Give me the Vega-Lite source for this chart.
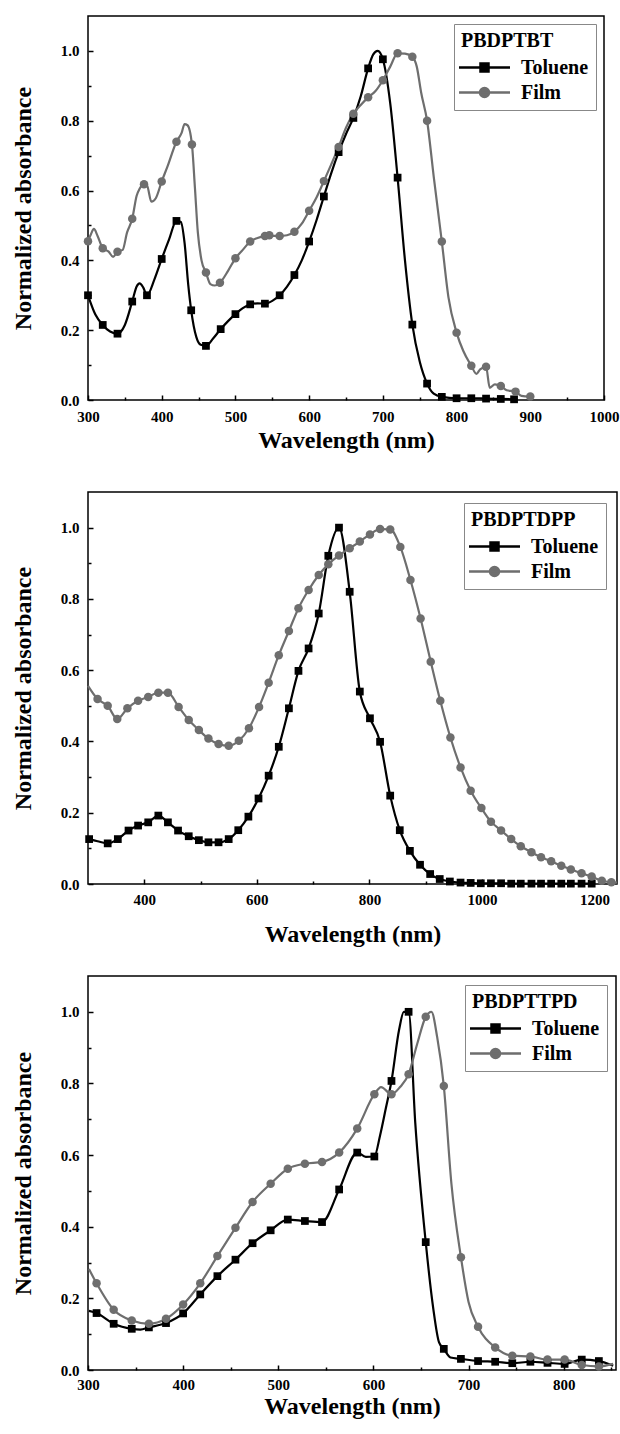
{
  "$schema": "https://vega.github.io/schema/vega-lite/v6.json",
  "padding": {"left": 10, "top": 15, "right": 0, "bottom": 0},
  "background": "white",
  "datasets": {
    "p1": [
      {"s":"Toluene","x":300,"y":0.30,"m":1},{"s":"Toluene","x":310,"y":0.245,"m":0},{"s":"Toluene","x":320,"y":0.215,"m":1},{"s":"Toluene","x":330,"y":0.196,"m":0},{"s":"Toluene","x":340,"y":0.19,"m":1},{"s":"Toluene","x":350,"y":0.215,"m":0},{"s":"Toluene","x":360,"y":0.282,"m":1},{"s":"Toluene","x":366,"y":0.325,"m":0},{"s":"Toluene","x":370,"y":0.334,"m":0},{"s":"Toluene","x":375,"y":0.322,"m":0},{"s":"Toluene","x":380,"y":0.30,"m":1},{"s":"Toluene","x":390,"y":0.345,"m":0},{"s":"Toluene","x":400,"y":0.404,"m":1},{"s":"Toluene","x":410,"y":0.46,"m":0},{"s":"Toluene","x":420,"y":0.513,"m":1},{"s":"Toluene","x":426,"y":0.51,"m":0},{"s":"Toluene","x":431,"y":0.45,"m":0},{"s":"Toluene","x":436,"y":0.33,"m":0},{"s":"Toluene","x":440,"y":0.257,"m":1},{"s":"Toluene","x":447,"y":0.18,"m":0},{"s":"Toluene","x":453,"y":0.158,"m":0},{"s":"Toluene","x":460,"y":0.155,"m":1},{"s":"Toluene","x":470,"y":0.177,"m":0},{"s":"Toluene","x":480,"y":0.203,"m":1},{"s":"Toluene","x":490,"y":0.226,"m":0},{"s":"Toluene","x":500,"y":0.246,"m":1},{"s":"Toluene","x":510,"y":0.263,"m":0},{"s":"Toluene","x":520,"y":0.274,"m":1},{"s":"Toluene","x":530,"y":0.277,"m":0},{"s":"Toluene","x":540,"y":0.276,"m":1},{"s":"Toluene","x":550,"y":0.284,"m":0},{"s":"Toluene","x":560,"y":0.30,"m":1},{"s":"Toluene","x":570,"y":0.325,"m":0},{"s":"Toluene","x":580,"y":0.358,"m":1},{"s":"Toluene","x":590,"y":0.40,"m":0},{"s":"Toluene","x":600,"y":0.454,"m":1},{"s":"Toluene","x":610,"y":0.515,"m":0},{"s":"Toluene","x":620,"y":0.583,"m":1},{"s":"Toluene","x":630,"y":0.65,"m":0},{"s":"Toluene","x":640,"y":0.71,"m":1},{"s":"Toluene","x":650,"y":0.762,"m":0},{"s":"Toluene","x":660,"y":0.808,"m":1},{"s":"Toluene","x":670,"y":0.87,"m":0},{"s":"Toluene","x":680,"y":0.95,"m":1},{"s":"Toluene","x":687,"y":0.99,"m":0},{"s":"Toluene","x":693,"y":1.0,"m":0},{"s":"Toluene","x":700,"y":0.976,"m":1},{"s":"Toluene","x":710,"y":0.85,"m":0},{"s":"Toluene","x":720,"y":0.637,"m":1},{"s":"Toluene","x":730,"y":0.40,"m":0},{"s":"Toluene","x":740,"y":0.216,"m":1},{"s":"Toluene","x":750,"y":0.11,"m":0},{"s":"Toluene","x":760,"y":0.047,"m":1},{"s":"Toluene","x":769,"y":0.018,"m":0},{"s":"Toluene","x":780,"y":0.009,"m":1},{"s":"Toluene","x":800,"y":0.005,"m":1},{"s":"Toluene","x":820,"y":0.005,"m":1},{"s":"Toluene","x":840,"y":0.004,"m":1},{"s":"Toluene","x":860,"y":0.003,"m":1},{"s":"Toluene","x":878,"y":0.002,"m":1},
      {"s":"Film","x":300,"y":0.455,"m":1},{"s":"Film","x":304,"y":0.475,"m":0},{"s":"Film","x":308,"y":0.49,"m":0},{"s":"Film","x":313,"y":0.47,"m":0},{"s":"Film","x":320,"y":0.435,"m":1},{"s":"Film","x":328,"y":0.425,"m":0},{"s":"Film","x":334,"y":0.41,"m":0},{"s":"Film","x":340,"y":0.425,"m":1},{"s":"Film","x":347,"y":0.43,"m":0},{"s":"Film","x":353,"y":0.48,"m":0},{"s":"Film","x":360,"y":0.519,"m":1},{"s":"Film","x":366,"y":0.585,"m":0},{"s":"Film","x":370,"y":0.605,"m":0},{"s":"Film","x":376,"y":0.618,"m":1},{"s":"Film","x":380,"y":0.615,"m":0},{"s":"Film","x":386,"y":0.568,"m":0},{"s":"Film","x":392,"y":0.578,"m":0},{"s":"Film","x":400,"y":0.626,"m":1},{"s":"Film","x":408,"y":0.67,"m":0},{"s":"Film","x":420,"y":0.74,"m":1},{"s":"Film","x":427,"y":0.765,"m":0},{"s":"Film","x":431,"y":0.79,"m":0},{"s":"Film","x":435,"y":0.787,"m":0},{"s":"Film","x":441,"y":0.732,"m":1},{"s":"Film","x":445,"y":0.61,"m":0},{"s":"Film","x":449,"y":0.48,"m":0},{"s":"Film","x":454,"y":0.40,"m":0},{"s":"Film","x":460,"y":0.365,"m":1},{"s":"Film","x":466,"y":0.332,"m":0},{"s":"Film","x":472,"y":0.328,"m":0},{"s":"Film","x":479,"y":0.336,"m":1},{"s":"Film","x":490,"y":0.37,"m":0},{"s":"Film","x":500,"y":0.406,"m":1},{"s":"Film","x":510,"y":0.43,"m":0},{"s":"Film","x":520,"y":0.454,"m":1},{"s":"Film","x":530,"y":0.464,"m":0},{"s":"Film","x":540,"y":0.47,"m":1},{"s":"Film","x":546,"y":0.472,"m":1},{"s":"Film","x":552,"y":0.47,"m":0},{"s":"Film","x":560,"y":0.47,"m":1},{"s":"Film","x":570,"y":0.472,"m":0},{"s":"Film","x":580,"y":0.482,"m":1},{"s":"Film","x":590,"y":0.505,"m":0},{"s":"Film","x":600,"y":0.542,"m":1},{"s":"Film","x":610,"y":0.58,"m":0},{"s":"Film","x":620,"y":0.627,"m":1},{"s":"Film","x":630,"y":0.675,"m":0},{"s":"Film","x":640,"y":0.725,"m":1},{"s":"Film","x":650,"y":0.78,"m":0},{"s":"Film","x":660,"y":0.82,"m":1},{"s":"Film","x":670,"y":0.845,"m":0},{"s":"Film","x":680,"y":0.867,"m":1},{"s":"Film","x":690,"y":0.885,"m":0},{"s":"Film","x":700,"y":0.916,"m":1},{"s":"Film","x":710,"y":0.955,"m":0},{"s":"Film","x":720,"y":0.993,"m":1},{"s":"Film","x":730,"y":0.992,"m":0},{"s":"Film","x":740,"y":0.983,"m":1},{"s":"Film","x":746,"y":0.955,"m":0},{"s":"Film","x":752,"y":0.88,"m":0},{"s":"Film","x":760,"y":0.80,"m":1},{"s":"Film","x":769,"y":0.64,"m":0},{"s":"Film","x":780,"y":0.454,"m":1},{"s":"Film","x":789,"y":0.294,"m":0},{"s":"Film","x":800,"y":0.193,"m":1},{"s":"Film","x":809,"y":0.141,"m":0},{"s":"Film","x":820,"y":0.098,"m":1},{"s":"Film","x":827,"y":0.075,"m":0},{"s":"Film","x":832,"y":0.088,"m":0},{"s":"Film","x":840,"y":0.095,"m":1},{"s":"Film","x":845,"y":0.035,"m":0},{"s":"Film","x":852,"y":0.045,"m":0},{"s":"Film","x":860,"y":0.04,"m":1},{"s":"Film","x":868,"y":0.028,"m":0},{"s":"Film","x":880,"y":0.024,"m":1},{"s":"Film","x":888,"y":0.012,"m":0},{"s":"Film","x":900,"y":0.01,"m":1}
    ],
    "p2": [
      {"s":"Toluene","x":302,"y":0.126,"m":1},{"s":"Toluene","x":317,"y":0.12,"m":0},{"s":"Toluene","x":335,"y":0.114,"m":1},{"s":"Toluene","x":353,"y":0.126,"m":1},{"s":"Toluene","x":372,"y":0.15,"m":1},{"s":"Toluene","x":389,"y":0.164,"m":1},{"s":"Toluene","x":407,"y":0.173,"m":1},{"s":"Toluene","x":425,"y":0.192,"m":1},{"s":"Toluene","x":442,"y":0.173,"m":1},{"s":"Toluene","x":460,"y":0.15,"m":1},{"s":"Toluene","x":479,"y":0.134,"m":1},{"s":"Toluene","x":497,"y":0.123,"m":1},{"s":"Toluene","x":514,"y":0.117,"m":1},{"s":"Toluene","x":532,"y":0.117,"m":1},{"s":"Toluene","x":550,"y":0.126,"m":1},{"s":"Toluene","x":567,"y":0.151,"m":1},{"s":"Toluene","x":585,"y":0.189,"m":1},{"s":"Toluene","x":603,"y":0.24,"m":1},{"s":"Toluene","x":621,"y":0.304,"m":1},{"s":"Toluene","x":639,"y":0.385,"m":1},{"s":"Toluene","x":657,"y":0.493,"m":1},{"s":"Toluene","x":674,"y":0.598,"m":1},{"s":"Toluene","x":692,"y":0.661,"m":1},{"s":"Toluene","x":710,"y":0.759,"m":1},{"s":"Toluene","x":727,"y":0.921,"m":1},{"s":"Toluene","x":746,"y":1.0,"m":1},{"s":"Toluene","x":765,"y":0.82,"m":1},{"s":"Toluene","x":783,"y":0.54,"m":1},{"s":"Toluene","x":801,"y":0.465,"m":1},{"s":"Toluene","x":819,"y":0.399,"m":1},{"s":"Toluene","x":837,"y":0.248,"m":1},{"s":"Toluene","x":854,"y":0.151,"m":1},{"s":"Toluene","x":872,"y":0.093,"m":1},{"s":"Toluene","x":890,"y":0.054,"m":1},{"s":"Toluene","x":908,"y":0.028,"m":1},{"s":"Toluene","x":925,"y":0.014,"m":1},{"s":"Toluene","x":943,"y":0.007,"m":1},{"s":"Toluene","x":962,"y":0.004,"m":1},{"s":"Toluene","x":980,"y":0.003,"m":1},{"s":"Toluene","x":998,"y":0.002,"m":1},{"s":"Toluene","x":1016,"y":0.002,"m":1},{"s":"Toluene","x":1034,"y":0.002,"m":1},{"s":"Toluene","x":1052,"y":0.001,"m":1},{"s":"Toluene","x":1069,"y":0.001,"m":1},{"s":"Toluene","x":1088,"y":0.001,"m":1},{"s":"Toluene","x":1105,"y":0.001,"m":1},{"s":"Toluene","x":1123,"y":0.001,"m":1},{"s":"Toluene","x":1141,"y":0.001,"m":1},{"s":"Toluene","x":1158,"y":0.001,"m":1},{"s":"Toluene","x":1177,"y":0.001,"m":1},{"s":"Toluene","x":1195,"y":0.001,"m":1},
      {"s":"Film","x":300,"y":0.556,"m":0},{"s":"Film","x":317,"y":0.519,"m":1},{"s":"Film","x":335,"y":0.50,"m":1},{"s":"Film","x":352,"y":0.463,"m":1},{"s":"Film","x":370,"y":0.493,"m":1},{"s":"Film","x":389,"y":0.514,"m":1},{"s":"Film","x":407,"y":0.525,"m":1},{"s":"Film","x":425,"y":0.537,"m":1},{"s":"Film","x":442,"y":0.537,"m":1},{"s":"Film","x":461,"y":0.497,"m":1},{"s":"Film","x":479,"y":0.46,"m":1},{"s":"Film","x":497,"y":0.432,"m":1},{"s":"Film","x":514,"y":0.408,"m":1},{"s":"Film","x":532,"y":0.393,"m":1},{"s":"Film","x":550,"y":0.388,"m":1},{"s":"Film","x":568,"y":0.402,"m":1},{"s":"Film","x":586,"y":0.437,"m":1},{"s":"Film","x":604,"y":0.497,"m":1},{"s":"Film","x":621,"y":0.565,"m":1},{"s":"Film","x":639,"y":0.642,"m":1},{"s":"Film","x":657,"y":0.71,"m":1},{"s":"Film","x":674,"y":0.774,"m":1},{"s":"Film","x":692,"y":0.825,"m":1},{"s":"Film","x":710,"y":0.867,"m":1},{"s":"Film","x":727,"y":0.897,"m":1},{"s":"Film","x":746,"y":0.922,"m":1},{"s":"Film","x":765,"y":0.942,"m":1},{"s":"Film","x":783,"y":0.961,"m":1},{"s":"Film","x":801,"y":0.981,"m":1},{"s":"Film","x":819,"y":0.996,"m":1},{"s":"Film","x":837,"y":0.995,"m":1},{"s":"Film","x":855,"y":0.946,"m":1},{"s":"Film","x":873,"y":0.853,"m":1},{"s":"Film","x":891,"y":0.745,"m":1},{"s":"Film","x":909,"y":0.624,"m":1},{"s":"Film","x":926,"y":0.514,"m":1},{"s":"Film","x":944,"y":0.411,"m":1},{"s":"Film","x":962,"y":0.327,"m":1},{"s":"Film","x":980,"y":0.262,"m":1},{"s":"Film","x":999,"y":0.213,"m":1},{"s":"Film","x":1016,"y":0.175,"m":1},{"s":"Film","x":1034,"y":0.15,"m":1},{"s":"Film","x":1052,"y":0.126,"m":1},{"s":"Film","x":1069,"y":0.106,"m":1},{"s":"Film","x":1088,"y":0.089,"m":1},{"s":"Film","x":1105,"y":0.075,"m":1},{"s":"Film","x":1123,"y":0.064,"m":1},{"s":"Film","x":1141,"y":0.051,"m":1},{"s":"Film","x":1158,"y":0.041,"m":1},{"s":"Film","x":1177,"y":0.03,"m":1},{"s":"Film","x":1195,"y":0.021,"m":1},{"s":"Film","x":1213,"y":0.009,"m":1},{"s":"Film","x":1230,"y":0.005,"m":1},{"s":"Film","x":1240,"y":0.004,"m":0}
    ],
    "p3": [
      {"s":"Toluene","x":301,"y":0.165,"m":0},{"s":"Toluene","x":309,"y":0.159,"m":1},{"s":"Toluene","x":327,"y":0.129,"m":1},{"s":"Toluene","x":346,"y":0.115,"m":1},{"s":"Toluene","x":355,"y":0.113,"m":0},{"s":"Toluene","x":364,"y":0.119,"m":1},{"s":"Toluene","x":382,"y":0.131,"m":1},{"s":"Toluene","x":400,"y":0.158,"m":1},{"s":"Toluene","x":418,"y":0.211,"m":1},{"s":"Toluene","x":436,"y":0.262,"m":1},{"s":"Toluene","x":455,"y":0.308,"m":1},{"s":"Toluene","x":473,"y":0.354,"m":1},{"s":"Toluene","x":492,"y":0.39,"m":1},{"s":"Toluene","x":510,"y":0.42,"m":1},{"s":"Toluene","x":528,"y":0.416,"m":1},{"s":"Toluene","x":546,"y":0.413,"m":1},{"s":"Toluene","x":564,"y":0.504,"m":1},{"s":"Toluene","x":583,"y":0.607,"m":1},{"s":"Toluene","x":592,"y":0.595,"m":0},{"s":"Toluene","x":601,"y":0.596,"m":1},{"s":"Toluene","x":607,"y":0.655,"m":0},{"s":"Toluene","x":613,"y":0.73,"m":0},{"s":"Toluene","x":619,"y":0.807,"m":1},{"s":"Toluene","x":627,"y":0.95,"m":0},{"s":"Toluene","x":632,"y":1.0,"m":0},{"s":"Toluene","x":637,"y":1.0,"m":1},{"s":"Toluene","x":644,"y":0.69,"m":0},{"s":"Toluene","x":655,"y":0.357,"m":1},{"s":"Toluene","x":663,"y":0.17,"m":0},{"s":"Toluene","x":669,"y":0.077,"m":0},{"s":"Toluene","x":674,"y":0.059,"m":1},{"s":"Toluene","x":681,"y":0.035,"m":0},{"s":"Toluene","x":692,"y":0.031,"m":1},{"s":"Toluene","x":710,"y":0.025,"m":1},{"s":"Toluene","x":728,"y":0.023,"m":1},{"s":"Toluene","x":746,"y":0.019,"m":1},{"s":"Toluene","x":765,"y":0.023,"m":1},{"s":"Toluene","x":783,"y":0.02,"m":1},{"s":"Toluene","x":801,"y":0.017,"m":1},{"s":"Toluene","x":819,"y":0.029,"m":1},{"s":"Toluene","x":837,"y":0.025,"m":1},{"s":"Toluene","x":852,"y":0.012,"m":0},
      {"s":"Film","x":301,"y":0.282,"m":0},{"s":"Film","x":309,"y":0.242,"m":1},{"s":"Film","x":327,"y":0.168,"m":1},{"s":"Film","x":346,"y":0.138,"m":1},{"s":"Film","x":364,"y":0.129,"m":1},{"s":"Film","x":382,"y":0.143,"m":1},{"s":"Film","x":400,"y":0.183,"m":1},{"s":"Film","x":418,"y":0.242,"m":1},{"s":"Film","x":436,"y":0.318,"m":1},{"s":"Film","x":455,"y":0.397,"m":1},{"s":"Film","x":473,"y":0.469,"m":1},{"s":"Film","x":492,"y":0.52,"m":1},{"s":"Film","x":510,"y":0.562,"m":1},{"s":"Film","x":528,"y":0.576,"m":1},{"s":"Film","x":546,"y":0.581,"m":1},{"s":"Film","x":564,"y":0.607,"m":1},{"s":"Film","x":583,"y":0.674,"m":1},{"s":"Film","x":601,"y":0.77,"m":1},{"s":"Film","x":608,"y":0.79,"m":0},{"s":"Film","x":619,"y":0.77,"m":1},{"s":"Film","x":628,"y":0.79,"m":0},{"s":"Film","x":637,"y":0.826,"m":1},{"s":"Film","x":646,"y":0.91,"m":0},{"s":"Film","x":655,"y":0.986,"m":1},{"s":"Film","x":661,"y":1.0,"m":0},{"s":"Film","x":667,"y":0.93,"m":0},{"s":"Film","x":674,"y":0.793,"m":1},{"s":"Film","x":682,"y":0.52,"m":0},{"s":"Film","x":692,"y":0.315,"m":1},{"s":"Film","x":700,"y":0.19,"m":0},{"s":"Film","x":710,"y":0.121,"m":1},{"s":"Film","x":728,"y":0.063,"m":1},{"s":"Film","x":746,"y":0.04,"m":1},{"s":"Film","x":765,"y":0.038,"m":1},{"s":"Film","x":783,"y":0.029,"m":1},{"s":"Film","x":801,"y":0.029,"m":1},{"s":"Film","x":819,"y":0.014,"m":1},{"s":"Film","x":837,"y":0.01,"m":1},{"s":"Film","x":852,"y":0.017,"m":0}
    ]
  },
  "vconcat": [
    {
      "width": 516, "height": 384,
      "data": {"name": "p1"},
      "encoding": {
        "x": {"field": "x", "type": "quantitative", "scale": {"domain": [300, 1000], "nice": false, "zero": false},
          "axis": {"title": "Wavelength (nm)", "format": "d", "values": [300,350,400,450,500,550,600,650,700,750,800,850,900,950,1000], "labelExpr": "datum.value % 100 === 0 ? datum.label : ''", "tickSize": {"condition": {"test": "datum.value % 100 !== 0", "value": -3}, "value": -5}, "labelPadding": 14, "titlePadding": 2}},
        "y": {"field": "y", "type": "quantitative", "scale": {"domain": [0, 1.1], "nice": false},
          "axis": {"title": "Normalized absorbance", "values": [0,0.1,0.2,0.3,0.4,0.5,0.6,0.7,0.8,0.9,1.0], "format": ".1f", "labelExpr": "round(datum.value*10) % 2 === 0 ? datum.label : ''", "tickSize": {"condition": {"test": "round(datum.value*10) % 2 === 1", "value": -3}, "value": -5}, "labelPadding": 14, "titlePadding": 25}},
        "color": {"field": "s", "type": "nominal", "scale": {"domain": ["Toluene", "Film"], "range": ["#000000", "#6e6e6e"]},
          "legend": {"title": "PBDPTBT", "orient": "top-right", "offset": 8,
            "encode": {"symbols": {"update": {
              "shape": {"signal": "datum.value === 'Toluene' ? 'M-2.55,0H2.55M-0.4,-0.4H0.4V0.4H-0.4Z' : 'M-2.55,0H2.55M0.45,0A0.45,0.45,0,1,1,-0.45,0A0.45,0.45,0,1,1,0.45,0Z'"},
              "fill": {"signal": "datum.value === 'Toluene' ? '#000000' : '#6e6e6e'"},
              "stroke": {"signal": "datum.value === 'Toluene' ? '#000000' : '#6e6e6e'"},
              "strokeWidth": {"value": 2.5}, "size": {"value": 400}, "opacity": {"value": 1}}}}}}
      },
      "layer": [
        {"mark": {"type": "line", "interpolate": "monotone", "strokeWidth": 2.2}},
        {"transform": [{"filter": "datum.m === 1 && datum.s === 'Toluene'"}],
         "mark": {"type": "point", "shape": "square", "filled": true, "opacity": 1, "size": 60}},
        {"transform": [{"filter": "datum.m === 1 && datum.s === 'Film'"}],
         "mark": {"type": "point", "shape": "circle", "filled": true, "opacity": 1, "size": 72}}
      ]
    },
    {
      "vconcat": [
        {
          "width": 529, "height": 392,
          "data": {"name": "p2"},
          "encoding": {
            "x": {"field": "x", "type": "quantitative", "scale": {"domain": [300, 1240], "nice": false, "zero": false},
              "axis": {"title": "Wavelength (nm)", "format": "d", "values": [400,500,600,700,800,900,1000,1100,1200], "labelExpr": "datum.value % 200 === 0 ? datum.label : ''", "tickSize": {"condition": {"test": "datum.value % 200 !== 0", "value": -3}, "value": -5}, "labelPadding": 13, "titlePadding": 13}},
            "y": {"field": "y", "type": "quantitative", "scale": {"domain": [0, 1.1], "nice": false},
              "axis": {"title": "Normalized absorbance", "values": [0,0.1,0.2,0.3,0.4,0.5,0.6,0.7,0.8,0.9,1.0], "format": ".1f", "labelExpr": "round(datum.value*10) % 2 === 0 ? datum.label : ''", "tickSize": {"condition": {"test": "round(datum.value*10) % 2 === 1", "value": -3}, "value": -5}, "labelPadding": 14, "titlePadding": 25}},
            "color": {"field": "s", "type": "nominal", "scale": {"domain": ["Toluene", "Film"], "range": ["#000000", "#6e6e6e"]},
              "legend": {"title": "PBDPTDPP", "orient": "top-right", "offset": 11,
                "encode": {"symbols": {"update": {
                  "shape": {"signal": "datum.value === 'Toluene' ? 'M-2.55,0H2.55M-0.4,-0.4H0.4V0.4H-0.4Z' : 'M-2.55,0H2.55M0.45,0A0.45,0.45,0,1,1,-0.45,0A0.45,0.45,0,1,1,0.45,0Z'"},
                  "fill": {"signal": "datum.value === 'Toluene' ? '#000000' : '#6e6e6e'"},
                  "stroke": {"signal": "datum.value === 'Toluene' ? '#000000' : '#6e6e6e'"},
                  "strokeWidth": {"value": 2.5}, "size": {"value": 400}, "opacity": {"value": 1}}}}}}
          },
          "layer": [
            {"mark": {"type": "line", "interpolate": "monotone", "strokeWidth": 2.2}},
            {"transform": [{"filter": "datum.m === 1 && datum.s === 'Toluene'"}],
             "mark": {"type": "point", "shape": "square", "filled": true, "opacity": 1, "size": 60}},
            {"transform": [{"filter": "datum.m === 1 && datum.s === 'Film'"}],
             "mark": {"type": "point", "shape": "circle", "filled": true, "opacity": 1, "size": 72}}
          ]
        },
        {
          "width": 528, "height": 394,
          "data": {"name": "p3"},
          "encoding": {
            "x": {"field": "x", "type": "quantitative", "scale": {"domain": [300, 855], "nice": false, "zero": false},
              "axis": {"title": "Wavelength (nm)", "format": "d", "values": [300,350,400,450,500,550,600,650,700,750,800,850], "labelExpr": "datum.value % 100 === 0 ? datum.label : ''", "tickSize": {"condition": {"test": "datum.value % 100 !== 0", "value": -3}, "value": -5}, "labelPadding": 12, "titlePadding": 0}},
            "y": {"field": "y", "type": "quantitative", "scale": {"domain": [0, 1.1], "nice": false},
              "axis": {"title": "Normalized absorbance", "values": [0,0.1,0.2,0.3,0.4,0.5,0.6,0.7,0.8,0.9,1.0], "format": ".1f", "labelExpr": "round(datum.value*10) % 2 === 0 ? datum.label : ''", "tickSize": {"condition": {"test": "round(datum.value*10) % 2 === 1", "value": -3}, "value": -5}, "labelPadding": 14, "titlePadding": 25}},
            "color": {"field": "s", "type": "nominal", "scale": {"domain": ["Toluene", "Film"], "range": ["#000000", "#6e6e6e"]},
              "legend": {"title": "PBDPTTPD", "orient": "top-right", "offset": 9,
                "encode": {"symbols": {"update": {
                  "shape": {"signal": "datum.value === 'Toluene' ? 'M-2.55,0H2.55M-0.4,-0.4H0.4V0.4H-0.4Z' : 'M-2.55,0H2.55M0.45,0A0.45,0.45,0,1,1,-0.45,0A0.45,0.45,0,1,1,0.45,0Z'"},
                  "fill": {"signal": "datum.value === 'Toluene' ? '#000000' : '#6e6e6e'"},
                  "stroke": {"signal": "datum.value === 'Toluene' ? '#000000' : '#6e6e6e'"},
                  "strokeWidth": {"value": 2.5}, "size": {"value": 400}, "opacity": {"value": 1}}}}}}
          },
          "layer": [
            {"mark": {"type": "line", "interpolate": "monotone", "strokeWidth": 2.2}},
            {"transform": [{"filter": "datum.m === 1 && datum.s === 'Toluene'"}],
             "mark": {"type": "point", "shape": "square", "filled": true, "opacity": 1, "size": 60}},
            {"transform": [{"filter": "datum.m === 1 && datum.s === 'Film'"}],
             "mark": {"type": "point", "shape": "circle", "filled": true, "opacity": 1, "size": 72}}
          ]
        }
      ],
      "spacing": 28,
      "resolve": {"scale": {"color": "independent", "x": "independent", "y": "independent"}, "legend": {"color": "independent"}}
    }
  ],
  "spacing": 38,
  "resolve": {"scale": {"color": "independent", "x": "independent", "y": "independent"}, "legend": {"color": "independent"}},
  "config": {
    "font": "Liberation Serif",
    "view": {"stroke": "#000000", "strokeWidth": 1.5},
    "axis": {"grid": false, "domain": false, "tickColor": "#000000", "tickWidth": 1.5, "labelFont": "Liberation Serif", "labelFontSize": 15, "labelFontWeight": "bold", "labelColor": "#000000", "titleFont": "Liberation Serif", "titleFontSize": 24, "titleFontWeight": "bold", "titleColor": "#000000", "labelFlush": false, "labelOverlap": false},
    "legend": {"strokeColor": "#888888", "fillColor": "#ffffff", "padding": 7, "titleFont": "Liberation Serif", "titleFontSize": 20, "titleFontWeight": "bold", "titleColor": "#000000", "titlePadding": 5, "labelFont": "Liberation Serif", "labelFontSize": 20, "labelFontWeight": "bold", "labelColor": "#000000", "symbolOffset": 12, "labelOffset": 25, "rowPadding": 3, "symbolSize": 400, "symbolStrokeWidth": 2.5, "cornerRadius": 0}
  }
}
